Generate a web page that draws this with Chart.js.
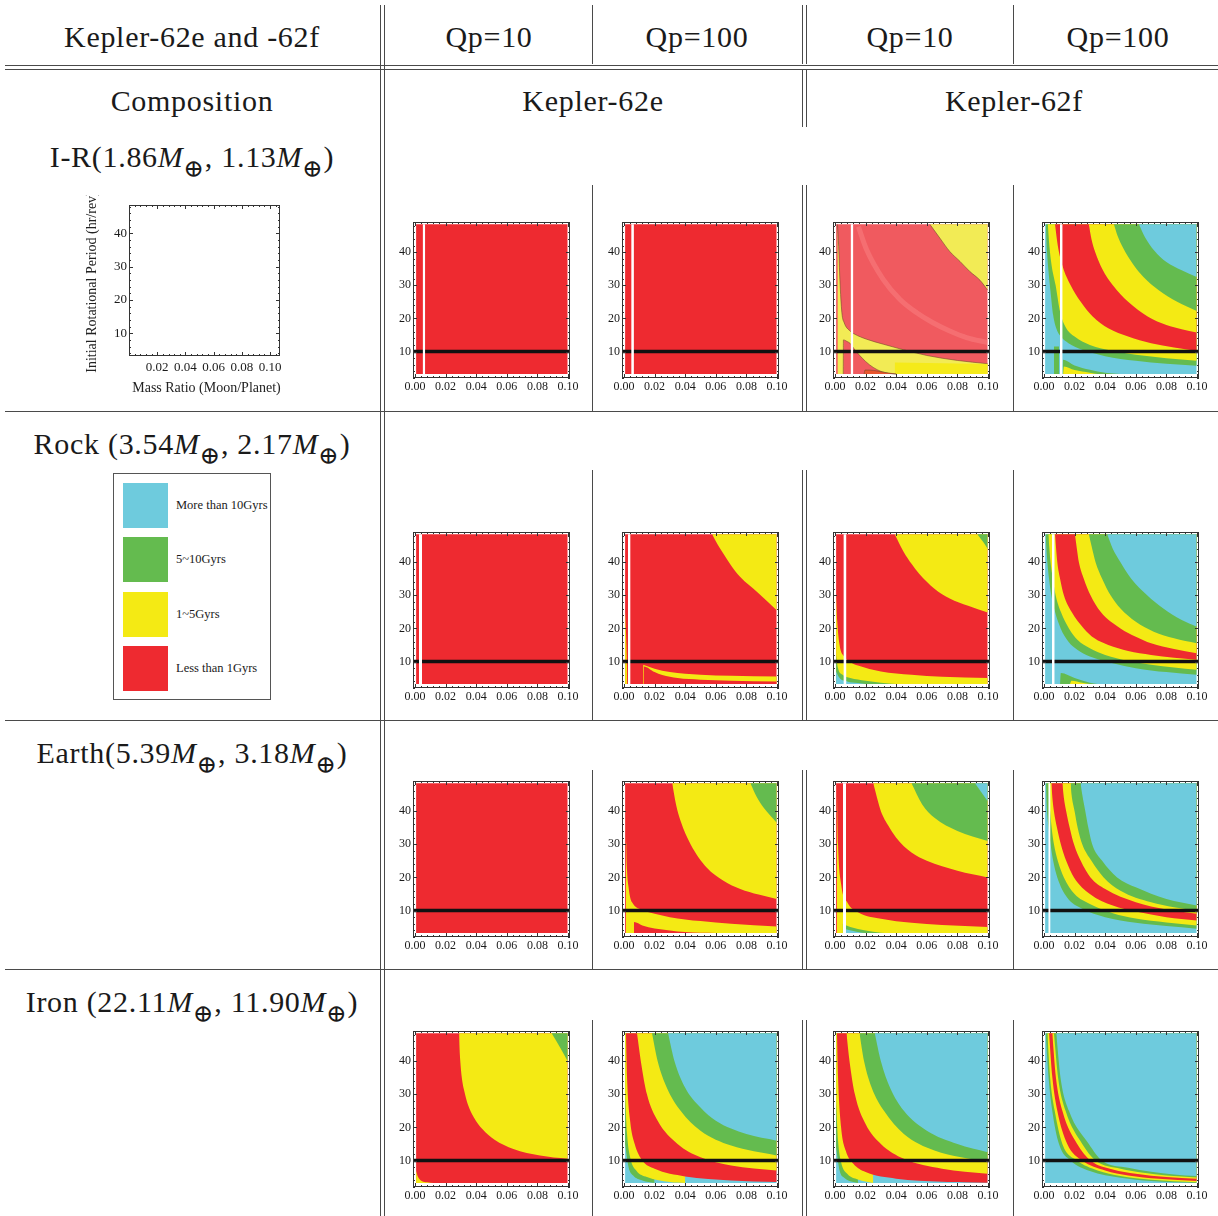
<!DOCTYPE html>
<html>
<head>
<meta charset="utf-8">
<title>Kepler-62e and -62f</title>
<script src="https://cdn.jsdelivr.net/npm/chart.js@4.4.1/dist/chart.umd.min.js"></script>
<style>
  body { margin: 0; background: #fff; }
  #page { position: relative; width: 1218px; height: 1216px; overflow: hidden; background: #fff;
          font-family: "Liberation Serif", "DejaVu Serif", serif; color: #1a1a1a; }
  #page canvas { position: absolute; }
  .rule { position: absolute; background: #4a4a4a; }
  .cell { position: absolute; white-space: nowrap; font-size: 30px; line-height: 30px;
          transform: translateX(-50%); letter-spacing: 0.7px; }
  .cell i { font-style: italic; }
  .cell sub { font-size: 0.82em; vertical-align: -0.42em; line-height: 0; font-family: "DejaVu Serif", serif; }
  #legend { position: absolute; left: 113px; top: 473px; width: 158px; height: 227px;
            border: 1px solid #555; box-sizing: border-box; }
  .swatch { position: absolute; left: 9px; width: 45px; height: 45px; }
  .lab { position: absolute; left: 62px; font-size: 12.5px; line-height: 14px; white-space: nowrap; }
</style>
</head>
<body>
<div id="page"><div id="legend"></div></div>
<script>
// ---- labels ----
const qpLabels = ['Qp=10', 'Qp=100', 'Qp=10', 'Qp=100'];
const planetLabels = ['Kepler-62e', 'Kepler-62f'];
const compositions = ['I-R', 'Rock ', 'Earth', 'Iron '];
const massE = ['1.86', '3.54', '5.39', '22.11'];
const massF = ['1.13', '2.17', '3.18', '11.90'];
const lifetimeLabels = ['More than 10Gyrs', '5~10Gyrs', '1~5Gyrs', 'Less than 1Gyrs'];

// ---- axes ----
const massTicks = [0, 0.02, 0.04, 0.06, 0.08, 0.1];
const periodTicks = [10, 20, 30, 40];
const initialPeriod = 10;
const xLo = 0.0007, xHi = 0.0998, yLo = 3.2, yHi = 48.4;   // computed domain

// lifetime class: 0 >10Gyr, 1 5~10, 2 1~5, 3 <1, 4 <1 (deep), 5 1~5 (vivid)
// layer = [class, side, points]; side 1 -> region above curve, -1 -> below curve
const irE10 = {base: 3, gap: [0.005, 0.0067], layers: []};
const irE100 = {base: 3, gap: [0.0047, 0.0065], layers: []};
const irF10 = {base: 3, gap: [0.0102, 0.012], pale: true, layers: [
  [2, 1, [[0.062, 48.4], [0.0686, 44.2], [0.075, 40.2], [0.0817, 37.2], [0.088, 34.2], [0.0948, 31.5], [0.0998, 28.5]]],
  [2, -1, [[0.0016, 48.4], [0.0024, 41.7], [0.0032, 31.7], [0.0045, 21.7], [0.006, 18.7], [0.0098, 16.2], [0.013, 15.2],
           [0.0207, 13.7], [0.0316, 12.2], [0.0425, 10.8], [0.06, 8.8], [0.08, 7.3], [0.0998, 6.3]]],
  [5, -1, [[0.039, 6.7], [0.06, 6.5], [0.0998, 6.2]]],
  [3, -1, [[0.0054, 3.2], [0.0055, 13.5], [0.008, 13], [0.0098, 12.5], [0.013, 10.5], [0.02, 7], [0.025, 5.2],
           [0.03, 4], [0.035, 3.4], [0.04, 3.2]]],
  [4, -1, [[0.019, 3.2], [0.0196, 4.4], [0.025, 4.3], [0.03, 3.9], [0.035, 3.5], [0.04, 3.2]]]
]};
const irF10Ridge = [[0.0153, 47.7], [0.0207, 40.7], [0.0316, 31.7], [0.0425, 25.7], [0.0534, 21.7], [0.064, 18.7],
                    [0.075, 16.2], [0.086, 14.2], [0.0998, 12.7]];
const irF100 = {base: 0, gap: [0.0104, 0.0122], layers: [
  [1, 1, [[0.0012, 48.4], [0.002, 40], [0.003, 34], [0.0043, 28], [0.006, 21], [0.008, 17], [0.011, 14.5], [0.016, 12.5],
          [0.025, 10.5], [0.04, 8.6], [0.06, 7.2], [0.08, 6.3], [0.0998, 5.7]]],
  [2, 1, [[0.0025, 48.4], [0.0035, 42], [0.005, 36], [0.0076, 30], [0.0105, 22], [0.014, 17.5], [0.02, 14.5], [0.03, 12],
          [0.045, 10.2], [0.06, 9], [0.08, 8], [0.0998, 7.2]]],
  [3, 1, [[0.0072, 48.4], [0.009, 42], [0.012, 36], [0.0174, 30], [0.024, 25], [0.032, 20.5], [0.042, 17], [0.055, 14.5],
          [0.07, 12.5], [0.085, 11.2], [0.0998, 10.2]]],
  [2, 1, [[0.0293, 48.4], [0.031, 44], [0.0335, 40], [0.038, 35], [0.045, 30], [0.055, 25], [0.068, 20.5], [0.08, 18],
          [0.09, 16.7], [0.0998, 15.7]]],
  [1, 1, [[0.0457, 48.4], [0.048, 45], [0.052, 41], [0.058, 36.5], [0.065, 32.5], [0.075, 28.5], [0.087, 25], [0.0998, 22.2]]],
  [0, 1, [[0.062, 48.4], [0.066, 44.5], [0.072, 40.5], [0.08, 37], [0.09, 34.5], [0.0998, 32.5]]],
  [1, -1, [[0.0065, 11.5], [0.0098, 11.5]]],
  [1, -1, [[0.012, 3.2], [0.0125, 7.5], [0.02, 5.8], [0.03, 4.5], [0.04, 3.6], [0.05, 3.2]]],
  [2, -1, [[0.0125, 3.2], [0.013, 5.5], [0.02, 4.4], [0.03, 3.6], [0.035, 3.2]]]
]};

const rockE10 = {base: 3, gap: [0.0026, 0.0046], layers: []};
const rockE100 = {base: 3, gap: [0.0026, 0.0043], layers: [
  [2, 1, [[0.0576, 48.4], [0.061, 45.5], [0.065, 42.5], [0.07, 39], [0.076, 35.5], [0.087, 31], [0.0998, 25.5]]],
  [2, -1, [[0.0007, 25], [0.0012, 20], [0.0016, 15], [0.002, 8], [0.0022, 3.2]]],
  [2, -1, [[0.0125, 9], [0.02, 7.8], [0.03, 6.8], [0.05, 6], [0.07, 5.7], [0.0998, 5.5]]],
  [3, -1, [[0.0128, 3.2], [0.013, 8.5], [0.02, 6.8], [0.025, 5.9], [0.035, 5], [0.05, 4.5], [0.07, 4.2], [0.0998, 4.0]]]
]};
const rockF10 = {base: 3, gap: [0.0055, 0.0075], layers: [
  [2, 1, [[0.039, 48.4], [0.045, 43], [0.05, 39.5], [0.055, 36.5], [0.065, 32], [0.075, 29], [0.087, 26.8], [0.0998, 24.8]]],
  [1, 1, [[0.093, 48.4], [0.097, 46], [0.0998, 44]]],
  [2, -1, [[0.0007, 30], [0.0015, 22], [0.003, 15], [0.006, 11.5], [0.01, 9.8], [0.015, 8.8], [0.03, 7], [0.05, 6], [0.07, 5.4], [0.0998, 5]]],
  [1, -1, [[0.0007, 12], [0.002, 8], [0.005, 6], [0.01, 5], [0.02, 4.2], [0.03, 3.6], [0.04, 3.2]]],
  [0, -1, [[0.0007, 7], [0.003, 5], [0.008, 4], [0.015, 3.5], [0.02, 3.2]]]
]};
const rockF100 = {base: 0, gap: [0.0052, 0.007], layers: [
  [1, 1, [[0.001, 48.4], [0.0022, 40], [0.0033, 35], [0.0048, 30], [0.0072, 25], [0.0109, 20], [0.016, 16], [0.022, 13.5],
          [0.03, 11.5], [0.045, 9.5], [0.06, 8], [0.08, 6.8], [0.0998, 6.0]]],
  [2, 1, [[0.0028, 48.4], [0.0043, 40], [0.0058, 35], [0.0076, 30], [0.011, 25], [0.0163, 20], [0.022, 16.5], [0.03, 14],
          [0.04, 12], [0.055, 10.2], [0.07, 9], [0.085, 8.2], [0.0998, 7.5]]],
  [3, 1, [[0.0072, 48.4], [0.0087, 40], [0.0105, 35], [0.013, 30], [0.018, 25], [0.026, 20], [0.033, 17], [0.042, 15],
          [0.055, 13.2], [0.07, 12], [0.085, 11.1], [0.0998, 10.5]]],
  [2, 1, [[0.0202, 48.4], [0.0215, 44], [0.0228, 40], [0.026, 35], [0.0304, 30], [0.037, 25], [0.05, 20], [0.06, 17.5],
          [0.07, 15.5], [0.085, 13.8], [0.0998, 12.5]]],
  [1, 1, [[0.0293, 48.4], [0.031, 45], [0.0337, 40], [0.038, 35], [0.0435, 30], [0.05, 26], [0.06, 22], [0.0717, 19],
          [0.085, 17], [0.0998, 15.5]]],
  [0, 1, [[0.0413, 48.4], [0.045, 44], [0.05, 40], [0.057, 35], [0.0674, 30], [0.078, 26], [0.09, 22.5], [0.0998, 20.5]]],
  [1, -1, [[0.0105, 3.2], [0.011, 6.5], [0.02, 5], [0.03, 3.6], [0.035, 3.2]]],
  [2, -1, [[0.017, 3.2], [0.018, 4.2], [0.025, 3.6], [0.03, 3.2]]]
]};

const earthE10 = {base: 3, gap: null, layers: []};
const earthE100 = {base: 3, gap: null, layers: [
  [2, 1, [[0.0315, 48.4], [0.034, 42], [0.037, 37], [0.0435, 30], [0.054, 23], [0.065, 19], [0.076, 16.5], [0.088, 14.8], [0.0998, 13.5]]],
  [1, 1, [[0.0826, 48.4], [0.0865, 44.5], [0.0913, 41], [0.0998, 36.5]]],
  [2, -1, [[0.0012, 48.4], [0.0015, 30], [0.002, 22], [0.003, 17], [0.004, 14], [0.006, 12], [0.01, 10.5], [0.02, 9],
           [0.03, 8], [0.05, 6.8], [0.07, 6], [0.0998, 5.2]]],
  [3, -1, [[0.0065, 3.2], [0.0066, 6.5], [0.012, 5.5], [0.02, 4.6], [0.03, 4], [0.04, 3.5], [0.06, 3.2]]]
]};
const earthF10 = {base: 3, gap: [0.0052, 0.0072], layers: [
  [2, 1, [[0.025, 48.4], [0.0275, 44], [0.03, 40], [0.035, 35.5], [0.04, 32], [0.05, 27.5], [0.06, 25], [0.08, 22], [0.0998, 20]]],
  [1, 1, [[0.05, 48.4], [0.057, 42], [0.065, 38], [0.08, 34], [0.0998, 31]]],
  [0, 1, [[0.0915, 48.4], [0.0998, 43]]],
  [2, -1, [[0.0012, 48.4], [0.002, 30], [0.004, 18], [0.008, 12.5], [0.015, 9.5], [0.03, 7.5], [0.05, 6.3], [0.07, 5.6], [0.0998, 5]]],
  [1, -1, [[0.005, 6], [0.01, 5], [0.02, 4], [0.03, 3.3], [0.035, 3.2]]],
  [0, -1, [[0.006, 4.5], [0.012, 3.8], [0.02, 3.2], [0.024, 3.2]]]
]};
const earthF100 = {base: 0, gap: [0.0028, 0.0043], layers: [
  [1, 1, [[0.0013, 48.4], [0.0016, 44], [0.002, 40], [0.003, 35], [0.0043, 30], [0.006, 25], [0.0087, 20], [0.015, 14],
          [0.025, 10.5], [0.04, 8], [0.06, 6.3], [0.08, 5.3], [0.0998, 4.5]]],
  [2, 1, [[0.0028, 48.4], [0.0033, 44], [0.004, 40], [0.005, 35], [0.0065, 30], [0.009, 25], [0.013, 20], [0.02, 15],
          [0.03, 12], [0.045, 9.2], [0.06, 7.6], [0.08, 6.4], [0.0998, 5.5]]],
  [3, 1, [[0.0048, 48.4], [0.0055, 44], [0.0065, 40], [0.0085, 35], [0.011, 30], [0.0145, 25], [0.0196, 20], [0.03, 15],
          [0.045, 11.5], [0.06, 9.7], [0.08, 8], [0.0998, 7]]],
  [2, 1, [[0.012, 48.4], [0.013, 44], [0.0145, 40], [0.0168, 35], [0.0196, 30], [0.024, 25], [0.0304, 20], [0.04, 16.5],
          [0.06, 12.5], [0.08, 10.3], [0.0998, 9]]],
  [1, 1, [[0.0174, 48.4], [0.018, 45], [0.02, 40], [0.022, 35], [0.025, 30], [0.031, 25], [0.039, 20], [0.05, 16],
          [0.07, 12.5], [0.085, 11], [0.0998, 10]]],
  [0, 1, [[0.0239, 48.4], [0.025, 45], [0.027, 40], [0.029, 35], [0.0315, 30], [0.038, 25], [0.0478, 20], [0.06, 17],
          [0.08, 13.5], [0.0998, 11.5]]]
]};

const ironE10 = {base: 3, gap: null, layers: [
  [2, 1, [[0.0288, 48.4], [0.0291, 44], [0.0296, 40], [0.0306, 35], [0.0322, 31], [0.0345, 27], [0.0385, 23], [0.044, 19.5],
          [0.052, 16.3], [0.0643, 13.5], [0.0817, 11.5], [0.0998, 10.5]]],
  [1, 1, [[0.0893, 48.4], [0.095, 44], [0.0998, 40]]],
  [2, -1, [[0.0007, 6.8], [0.002, 5], [0.004, 3.9], [0.008, 3.4], [0.012, 3.2]]]
]};
const ironE100 = {base: 0, gap: null, layers: [
  [1, 1, [[0.0007, 15], [0.003, 8], [0.006, 5.5], [0.012, 4], [0.02, 3.2]]],
  [2, 1, [[0.0007, 30], [0.002, 18], [0.004, 11], [0.008, 7], [0.015, 5], [0.03, 3.5], [0.04, 3.2]]],
  [3, 1, [[0.0013, 48.4], [0.002, 35], [0.004, 22], [0.007, 15], [0.012, 10], [0.02, 7.5], [0.04, 5.2], [0.07, 4], [0.0998, 3.5]]],
  [2, 1, [[0.0085, 48.4], [0.011, 40], [0.015, 30], [0.022, 22], [0.035, 15], [0.05, 11], [0.07, 8.5], [0.0998, 7]]],
  [1, 1, [[0.0183, 48.4], [0.022, 40], [0.028, 32], [0.037, 25], [0.05, 19], [0.07, 14.5], [0.0998, 11.5]]],
  [0, 1, [[0.0288, 48.4], [0.033, 40], [0.04, 32], [0.05, 26], [0.06, 22], [0.08, 18], [0.0998, 16]]]
]};
const ironF10 = {base: 0, gap: null, layers: [
  [1, 1, [[0.0007, 14], [0.003, 7], [0.006, 4.8], [0.012, 3.5], [0.015, 3.2]]],
  [2, 1, [[0.0007, 28], [0.002, 16], [0.004, 9.5], [0.008, 6], [0.015, 4.3], [0.025, 3.2]]],
  [3, 1, [[0.0013, 48.4], [0.002, 35], [0.004, 20], [0.007, 13], [0.012, 9], [0.02, 6.5], [0.04, 4.5], [0.07, 3.6], [0.0998, 3.3]]],
  [2, 1, [[0.0075, 48.4], [0.0095, 40], [0.013, 30], [0.02, 21], [0.03, 15], [0.045, 10.5], [0.07, 7.5], [0.0998, 6]]],
  [1, 1, [[0.016, 48.4], [0.019, 40], [0.024, 32], [0.032, 25], [0.045, 18], [0.065, 13], [0.0998, 9.5]]],
  [0, 1, [[0.026, 48.4], [0.03, 40], [0.036, 32], [0.045, 25], [0.06, 19], [0.08, 15], [0.0998, 12.5]]]
]};
const ironF100 = {base: 0, gap: null, layers: [
  [1, 1, [[0.0011, 48.4], [0.003, 35], [0.0054, 25], [0.0098, 15], [0.0174, 10], [0.03, 6.8], [0.05, 4.8], [0.07, 3.8], [0.0998, 3.2]]],
  [2, 1, [[0.0022, 48.4], [0.004, 35], [0.007, 25], [0.012, 15], [0.0217, 10], [0.035, 7], [0.05, 5.3], [0.07, 4.2], [0.0998, 3.4]]],
  [3, 1, [[0.0033, 48.4], [0.0055, 35], [0.0087, 25], [0.0152, 15], [0.025, 10], [0.04, 7], [0.055, 5.5], [0.075, 4.5], [0.0998, 3.8]]],
  [2, 1, [[0.0054, 48.4], [0.0078, 35], [0.012, 25], [0.0217, 15], [0.0304, 10], [0.045, 7.3], [0.06, 6], [0.08, 5], [0.0998, 4.5]]],
  [1, 1, [[0.0065, 48.4], [0.0092, 35], [0.0141, 25], [0.025, 15], [0.0337, 10], [0.05, 7.5], [0.065, 6.3], [0.08, 5.5], [0.0998, 4.9]]],
  [0, 1, [[0.008, 48.4], [0.0108, 35], [0.0163, 25], [0.0293, 15], [0.0378, 10], [0.055, 7.8], [0.07, 6.6], [0.085, 5.8], [0.0998, 5.3]]]
]};

const panelRows = [
  [irE10, irE100, irF10, irF100],
  [rockE10, rockE100, rockF10, rockF100],
  [earthE10, earthE100, earthF10, earthF100],
  [ironE10, ironE100, ironF10, ironF100]
];

// ---- looks ----
const colors = ['#6ecbdd', '#64bb4f', '#f4ea14', '#ee2a30', '#ee2a30', '#f4ea14'];
const paleColors = ['#6ecbdd', '#64bb4f', '#f2eb55', '#f05a5f', '#e9552d', '#f5ea1a'];
const colLeft = [413, 622, 833, 1042];
const rowTop = [222, 532, 781, 1031];
const panelW = 157, panelH = 156, axisW = 30, axisH = 18, padR = 12, padT = 4;
const tickFont = {family: 'Liberation Serif', size: 12};

const page = document.getElementById('page');

const frameTicks = {
  id: 'frameTicks',
  afterDraw(chart, args, opts) {
    const {ctx, chartArea: a, scales: {x, y}} = chart;
    ctx.save();
    ctx.strokeStyle = '#333';
    ctx.lineWidth = 1;
    ctx.strokeRect(a.left + 0.5, a.top + 0.5, a.width - 1, a.height - 1);
    ctx.beginPath();
    for (let i = 0; i * opts.xStep <= x.max + 1e-9; i++) {
      const v = i * opts.xStep;
      if (v < x.min) continue;
      const px = Math.round(x.getPixelForValue(v)) + 0.5;
      const len = i % 5 === 0 ? 4 : 2;
      ctx.moveTo(px, a.bottom); ctx.lineTo(px, a.bottom - len);
      ctx.moveTo(px, a.top); ctx.lineTo(px, a.top + len);
    }
    for (let i = 0; i * opts.yStep <= y.max; i++) {
      const v = i * opts.yStep;
      if (v < y.min) continue;
      const py = Math.round(y.getPixelForValue(v)) + 0.5;
      const len = i % 5 === 0 ? 4 : 2;
      ctx.moveTo(a.left, py); ctx.lineTo(a.left + len, py);
      ctx.moveTo(a.right, py); ctx.lineTo(a.right - len, py);
    }
    ctx.stroke();
    ctx.restore();
  }
};

// axis titles of the sample (empty) frame, drawn unsqueezed
const axisTitles = {
  id: 'axisTitles',
  afterDraw(chart, args, opts) {
    const {ctx, chartArea: a} = chart;
    ctx.save();
    ctx.fillStyle = '#222';
    ctx.font = '14px "Liberation Serif"';
    ctx.textAlign = 'center';
    ctx.textBaseline = 'middle';
    ctx.fillText(opts.x, (a.left + a.right) / 2 + 2, a.bottom + 32);
    ctx.translate(12, (a.top + a.bottom) / 2 + 1.5);
    ctx.rotate(-Math.PI / 2);
    ctx.fillText(opts.y, 0, 0);
    ctx.restore();
  }
};

function area(pts, color, to, edge) {
  return {
    data: pts.map(([x, y]) => ({x, y: Math.min(yHi, Math.max(yLo, y))})),
    backgroundColor: color,
    borderColor: edge || 'transparent',
    borderWidth: edge ? 0.8 : 0,
    pointRadius: 0,
    fill: {value: to},
    cubicInterpolationMode: 'monotone'
  };
}

function stroke(pts, color, width) {
  return {
    data: pts.map(([x, y]) => ({x, y})),
    borderColor: color, borderWidth: width, pointRadius: 0, fill: false,
    cubicInterpolationMode: 'monotone'
  };
}

function addCanvas(left, top, w, h) {
  const c = document.createElement('canvas');
  c.width = w; c.height = h;
  c.style.left = left + 'px';
  c.style.top = top + 'px';
  page.appendChild(c);
  return c;
}

function makePanel(spec, left, top) {
  const canvas = addCanvas(left - axisW, top - padT, axisW + panelW + padR, padT + panelH + axisH);
  const pal = spec.pale ? paleColors : colors;
  const sets = [area([[xLo, yLo], [xHi, yLo]], pal[spec.base], yHi)];
  spec.layers.forEach(([cls, side, pts]) => {
    const edge = spec.pale && cls !== 5 ? 'rgba(110,70,40,0.7)' : null;
    sets.push(area(pts, pal[cls], side > 0 ? yHi : yLo, edge));
  });
  if (spec === irF10) sets.push(stroke(irF10Ridge, 'rgba(255,150,150,0.35)', 5));
  const xMin = -0.0013, xMax = 0.1013;
  sets.push(stroke([[xMin, initialPeriod], [xMax, initialPeriod]], '#111', 3.5));
  if (spec.gap) sets.push(area([[spec.gap[0], yLo], [spec.gap[1], yLo]], '#ffffff', yHi));
  sets.forEach((d, i) => { d.order = sets.length - i; });

  new Chart(canvas, {
    type: 'line',
    data: {datasets: sets},
    options: {
      responsive: false, animation: false, devicePixelRatio: 1, events: [],
      layout: {padding: {left: 0, right: padR, top: padT, bottom: 0}},
      plugins: {legend: {display: false}, tooltip: {enabled: false}, frameTicks: {xStep: 0.004, yStep: 2}},
      scales: {
        x: {
          type: 'linear', min: xMin, max: xMax,
          afterBuildTicks: s => { s.ticks = massTicks.map(v => ({value: v})); },
          afterFit: s => { s.height = axisH; s.paddingLeft = 0; s.paddingRight = 0; },
          ticks: {callback: v => v.toFixed(2), font: tickFont, color: '#1a1a1a', padding: 2, maxRotation: 0, autoSkip: false},
          grid: {display: false, drawTicks: false}, border: {display: false}
        },
        y: {
          type: 'linear', min: 2.0, max: 49.1,
          afterBuildTicks: s => { s.ticks = periodTicks.map(v => ({value: v})); },
          afterFit: s => { s.width = axisW; s.paddingTop = 0; s.paddingBottom = 0; },
          ticks: {font: tickFont, color: '#1a1a1a', padding: 2},
          grid: {display: false, drawTicks: false}, border: {display: false}
        }
      }
    },
    plugins: [frameTicks]
  });
}

panelRows.forEach((row, r) => row.forEach((spec, c) => makePanel(spec, colLeft[c], rowTop[r])));

// empty axes that carry the axis titles
(function () {
  const canvas = addCanvas(80, 195, 212, 203);
  const font = {family: 'Liberation Serif', size: 13};
  new Chart(canvas, {
    type: 'line',
    data: {datasets: []},
    options: {
      responsive: false, animation: false, devicePixelRatio: 1, events: [],
      layout: {padding: {left: 0, right: 12, top: 10, bottom: 0}},
      plugins: {
        legend: {display: false}, tooltip: {enabled: false},
        frameTicks: {xStep: 0.004, yStep: 2},
        axisTitles: {x: 'Mass Ratio (Moon/Planet)', y: 'Initial Rotational Period (hr/rev)'}
      },
      scales: {
        x: {
          type: 'linear', min: 0, max: 0.107,
          afterBuildTicks: s => { s.ticks = massTicks.slice(1).map(v => ({value: v})); },
          afterFit: s => { s.height = 42; s.paddingLeft = 0; s.paddingRight = 0; },
          ticks: {callback: v => v.toFixed(2), font, color: '#1a1a1a', padding: 4, maxRotation: 0, autoSkip: false},
          grid: {display: false, drawTicks: false}, border: {display: false}
        },
        y: {
          type: 'linear', min: 3.2, max: 48.5,
          afterBuildTicks: s => { s.ticks = periodTicks.map(v => ({value: v})); },
          afterFit: s => { s.width = 49; s.paddingTop = 0; s.paddingBottom = 0; },
          ticks: {font, color: '#1a1a1a', padding: 2},
          grid: {display: false, drawTicks: false}, border: {display: false}
        }
      }
    },
    plugins: [frameTicks, axisTitles]
  });
})();

// ---- table rules ----
const vRules = [[380, 5, 1216], [384, 5, 1216], [592, 5, 64], [802, 5, 64], [806, 5, 64], [1013, 5, 64],
                [802, 69, 127], [806, 69, 127]];
const rowSpans = [[185, 411], [470, 720], [770, 969], [1020, 1216]];
rowSpans.forEach(([a, b]) => [592, 802, 806, 1013].forEach(x => vRules.push([x, a, b])));
const hRules = [[65, 5, 1218], [69, 5, 1218], [411, 5, 1218], [720, 5, 1218], [969, 5, 1218]];

vRules.forEach(([x, a, b]) => {
  const d = document.createElement('div');
  d.className = 'rule';
  d.style.cssText = `left:${x}px;top:${a}px;width:1px;height:${b - a}px`;
  page.appendChild(d);
});
hRules.forEach(([y, a, b]) => {
  const d = document.createElement('div');
  d.className = 'rule';
  d.style.cssText = `left:${a}px;top:${y}px;width:${b - a}px;height:1px`;
  page.appendChild(d);
});

// ---- table text ----
function cell(html, cx, baseline) {
  const d = document.createElement('div');
  d.className = 'cell';
  d.innerHTML = html;
  d.style.left = cx + 'px';
  d.style.top = (baseline - 25) + 'px';
  page.appendChild(d);
}
cell('Kepler-62e and -62f', 192, 47);
[489, 697, 910, 1118].forEach((cx, i) => cell(qpLabels[i], cx, 47));
cell('Composition', 192, 111);
cell(planetLabels[0], 593, 111);
cell(planetLabels[1], 1014, 111);
const rowBaseline = [167, 454, 763, 1012];
compositions.forEach((comp, i) => {
  cell(`${comp}(${massE[i]}<i>M</i><sub>⊕</sub>, ${massF[i]}<i>M</i><sub>⊕</sub>)`, 192, rowBaseline[i]);
});

// ---- legend ----
const legend = document.getElementById('legend');
[9, 63, 118, 172].forEach((t, i) => {
  const sw = document.createElement('div');
  sw.className = 'swatch';
  sw.style.top = t + 'px';
  sw.style.background = colors[i];
  legend.appendChild(sw);
  const lab = document.createElement('div');
  lab.className = 'lab';
  lab.style.top = (t + 15) + 'px';
  lab.textContent = lifetimeLabels[i];
  legend.appendChild(lab);
});
</script>
</body>
</html>
